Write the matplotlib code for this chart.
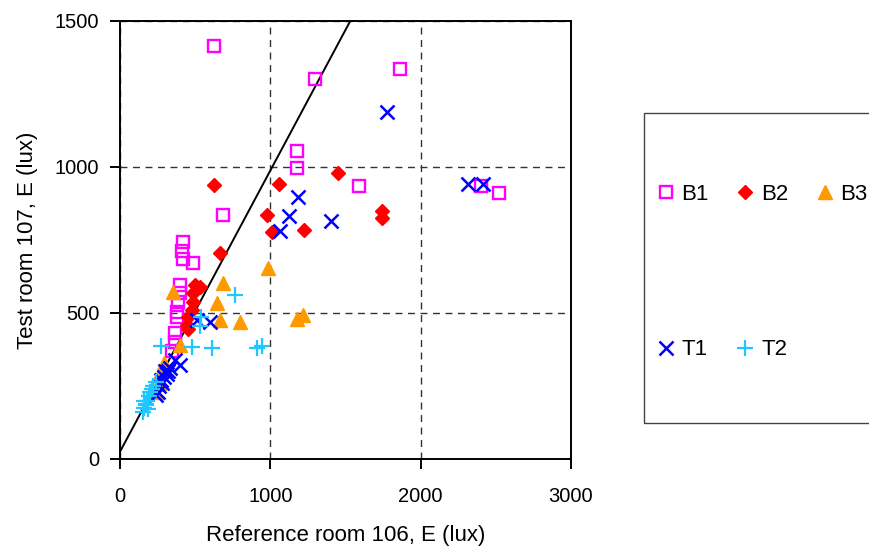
import matplotlib
matplotlib.use("Agg")
import matplotlib.pyplot as plt
from matplotlib.patches import Rectangle

plt.rcParams["font.family"] = ["Liberation Sans", "DejaVu Sans"]

# illuminance readings (lux): reference room 106 (x) vs test room 107 (y)
B1_X = [623, 1297, 1863, 1180, 1180, 1590, 2402, 2524, 688, 421, 410, 421, 488,
        399, 399, 388, 377, 377, 366, 366, 344]
B1_Y = [1415, 1300, 1335, 1056, 998, 935, 936, 911, 835, 744, 712, 686, 672,
        596, 568, 538, 503, 486, 432, 401, 370]

B2_X = [623, 1060, 1452, 976, 1009, 1224, 1743, 1743, 665, 499, 532, 488, 488,
        477, 455, 444, 455]
B2_Y = [939, 943, 980, 836, 778, 783, 850, 826, 704, 596, 590, 567, 539,
        510, 487, 459, 444]

B3_X = [987, 688, 355, 643, 665, 798, 1175, 1215, 399, 290, 270, 260, 240]
B3_Y = [653, 602, 573, 533, 476, 470, 479, 493, 390, 330, 300, 260, 230]

T1_X = [1776, 2317, 2417, 1182, 1124, 1404, 1065, 510, 599, 366, 399,
        330, 310, 290, 280, 260, 250, 240, 300, 270, 320]
T1_Y = [1188, 942, 942, 897, 832, 815, 780, 476, 470, 339, 322,
        310, 290, 280, 260, 250, 230, 220, 300, 270, 300]

T2_X = [765, 540, 530, 272, 480, 610, 909, 943,
        150, 160, 170, 180, 190, 200, 210, 160, 175, 185, 220, 240]
T2_Y = [560, 485, 455, 386, 384, 379, 379, 387,
        160, 175, 190, 200, 215, 230, 240, 200, 185, 170, 250, 265]

# fitted line y = a*x + b
FIT_A = 0.963
FIT_B = 25
FIT_X = [0, 1530]

fig = plt.figure(figsize=(8.7, 5.48), dpi=100)
ax = fig.add_axes([120 / 870, 89 / 548, 451 / 870, 438 / 548])

ax.plot(FIT_X, [FIT_A * x + FIT_B for x in FIT_X], color="black", lw=1.4, zorder=2)

b1, = ax.plot(B1_X, B1_Y, ls="none", marker="s", ms=8.5, mfc="none", mec="#FF00FF", mew=1.7, zorder=3)
b2, = ax.plot(B2_X, B2_Y, ls="none", marker="D", ms=7.5, color="#FF0000", zorder=3)
b3, = ax.plot(B3_X, B3_Y, ls="none", marker="^", ms=9.5, color="#FF9900", zorder=3)
t1, = ax.plot(T1_X, T1_Y, ls="none", marker="x", ms=10.5, mew=1.8, color="#0000FF", zorder=3)
t2, = ax.plot(T2_X, T2_Y, ls="none", marker="+", ms=11.5, mew=1.6, color="#1EC8FF", zorder=3)

ax.set_xlim(0, 3000)
ax.set_ylim(0, 1500)
ax.set_xticks([0, 1000, 2000, 3000])
ax.set_yticks([0, 500, 1000, 1500])
ax.grid(True, color="#333333", ls=(0, (5, 4)), lw=1.0)
ax.tick_params(direction="out", length=7, width=1.4, labelsize=14.5)
ax.tick_params(axis="x", pad=13)
ax.tick_params(axis="y", pad=8)
for s in ax.spines.values():
    s.set_linewidth(1.4)

ax.set_xlabel("Reference room 106, E (lux)", fontsize=16, labelpad=14)
ax.set_ylabel("Test room 107, E (lux)", fontsize=16, labelpad=12)

# legend box (runs off the right edge like the original)
fig.patches.append(Rectangle((644 / 870, 1 - 423 / 548), 240 / 870, 310 / 548,
                             transform=fig.transFigure, fill=False,
                             ec="#444444", lw=1.0))

handles = [b1, t1, b2, t2, b3]
labels = ["B1", "T1", "B2", "T2", "B3"]
fig.legend(handles, labels, ncol=3, frameon=False, loc="upper left",
           bbox_to_anchor=(657 / 870, 1 - 184 / 548), fontsize=16,
           handlelength=0.8, handletextpad=0.3, columnspacing=1.25,
           labelspacing=6.05, borderpad=0, borderaxespad=0)

fig.savefig("out.png", dpi=100)
